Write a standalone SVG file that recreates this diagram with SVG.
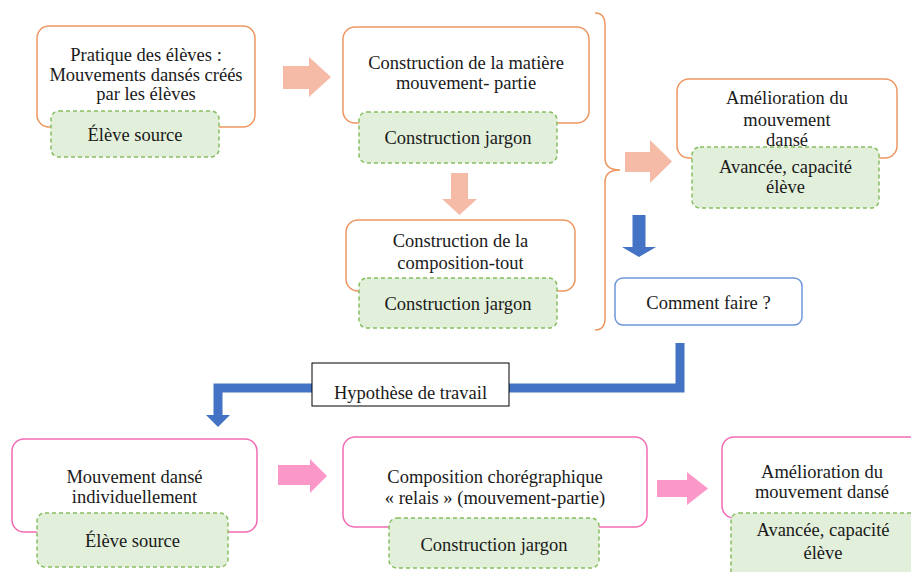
<svg xmlns="http://www.w3.org/2000/svg" width="911" height="572" viewBox="0 0 911 572">
<defs>
<style>
.box-o{fill:#fff;stroke:#EE9660;stroke-width:1.5}
.box-p{fill:#fff;stroke:#F26BB4;stroke-width:1.5}
.box-b{fill:#fff;stroke:#6F96D8;stroke-width:1.5}
.sub{fill:#E2EFDA;stroke:#86BF60;stroke-width:1.5;stroke-dasharray:4 3}
.t{fill:#1a1a1a;text-anchor:middle}
.a-o{fill:#F5BBA6}
.a-p{fill:#FC98C8}
.a-b{fill:#4472C4}
</style>
</defs>
<g id="connectors">
<polygon class="a-o" points="283,66 309,66 309,57 331,77 309,97 309,89 283,89"/>
<polygon class="a-o" points="451,173 468,173 468,199 477,199 459.5,215 442,199 451,199"/>
<path d="M595,13 Q605,13 605,25 L605,158 Q605,170 620,170 Q605,170 605,182 L605,318 Q605,330 595,330" fill="none" stroke="#EE9660" stroke-width="1.5"/>
<polygon class="a-o" points="625,152 650,152 650,140 672,161.5 650,183 650,172 625,172"/>
<polygon class="a-b" points="632.5,215 645.5,215 645.5,247 656,247 639,257 622,247 632.5,247"/>
<path d="M680,343 L680,388 L218,388 L218,415" fill="none" stroke="#4472C4" stroke-width="9"/>
<polygon class="a-b" points="206,415 230,415 218,427"/>
<polygon class="a-p" points="278,465 310,465 310,459 327,476 310,493 310,485 278,485"/>
<polygon class="a-p" points="657,480 687,480 687,472 708,488.5 687,505 687,497 657,497"/>
</g>
<g font-family="Liberation Serif, Tinos, Times New Roman, DejaVu Serif, serif" font-size="18.5">
<g id="n1">
<rect class="box-o" x="37" y="26" width="218" height="101" rx="12"/>
<text class="t" x="146" y="61">Pratique des élèves :</text>
<text class="t" x="146" y="81">Mouvements dansés créés</text>
<text class="t" x="146" y="100">par les élèves</text>
<rect class="sub" x="51" y="111" width="168" height="46" rx="8"/>
<text class="t" x="135" y="141">Élève source</text>
</g>
<g id="n2">
<rect class="box-o" x="343" y="27" width="246" height="96" rx="12"/>
<text class="t" x="466" y="69">Construction de la matière</text>
<text class="t" x="466" y="89">mouvement- partie</text>
<rect class="sub" x="359" y="112" width="198" height="51" rx="8"/>
<text class="t" x="458" y="144">Construction jargon</text>
</g>
<g id="n3">
<rect class="box-o" x="346" y="220" width="229" height="71" rx="12"/>
<text class="t" x="460.5" y="247">Construction de la</text>
<text class="t" x="460.5" y="269">composition-tout</text>
<rect class="sub" x="359" y="278" width="198" height="50" rx="8"/>
<text class="t" x="458" y="310">Construction jargon</text>
</g>
<g id="n4">
<rect class="box-o" x="677" y="79" width="220" height="79" rx="12"/>
<text class="t" x="787" y="104">Amélioration du</text>
<text class="t" x="787" y="126">mouvement</text>
<text class="t" x="787" y="146">dansé</text>
<rect class="sub" x="692" y="147" width="187" height="61" rx="8"/>
<text class="t" x="785.5" y="173">Avancée, capacité</text>
<text class="t" x="785.5" y="193">élève</text>
</g>
<g id="n5">
<rect class="box-b" x="615" y="278" width="187" height="47" rx="8"/>
<text class="t" x="708.5" y="309">Comment faire ?</text>
</g>
<g id="n6">
<rect x="312" y="363" width="197" height="43" fill="#fff" stroke="#000" stroke-width="1"/>
<text class="t" x="410.5" y="399">Hypothèse de travail</text>
</g>
<g id="n7">
<rect class="box-p" x="12" y="439" width="245" height="93" rx="12"/>
<text class="t" x="134.5" y="483">Mouvement dansé</text>
<text class="t" x="134.5" y="503">individuellement</text>
<rect class="sub" x="37" y="513" width="191" height="54" rx="8"/>
<text class="t" x="132.5" y="547">Élève source</text>
</g>
<g id="n8">
<rect class="box-p" x="343" y="437" width="304" height="90" rx="12"/>
<text class="t" x="495" y="483">Composition chorégraphique</text>
<text class="t" x="495" y="504">« relais » (mouvement-partie)</text>
<rect class="sub" x="389" y="518" width="210" height="50" rx="8"/>
<text class="t" x="494" y="551">Construction jargon</text>
</g>
<g id="n9">
<rect class="box-p" x="722" y="437" width="200" height="81" rx="12"/>
<text class="t" x="822" y="478">Amélioration du</text>
<text class="t" x="822" y="498">mouvement dansé</text>
<rect class="sub" x="731" y="513" width="200" height="70" rx="8"/>
<text class="t" x="823" y="536">Avancée, capacité</text>
<text class="t" x="823" y="559">élève</text>
</g>
</g>
</svg>
